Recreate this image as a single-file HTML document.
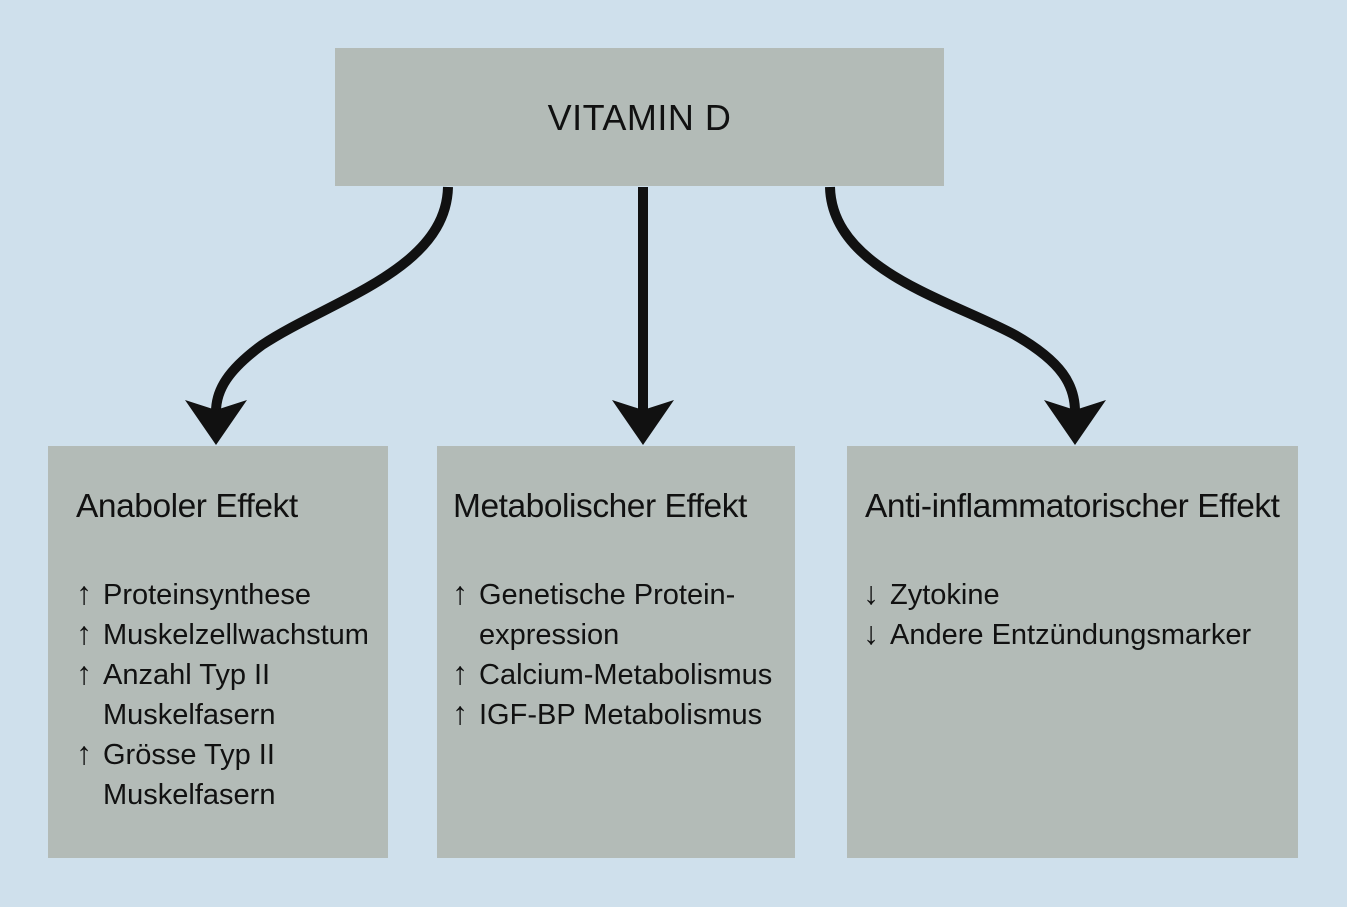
<!DOCTYPE html>
<html><head><meta charset="utf-8"><style>
body{margin:0;width:1347px;height:907px;background:#cfe0ec;position:relative;overflow:hidden;font-family:"Liberation Sans",sans-serif;color:#111}
.b{position:absolute;background:#b3bbb7}
.t{position:absolute;white-space:nowrap}
.h{font-size:33.5px;letter-spacing:-0.45px}
.i{font-size:29px;line-height:40px}
.a{font-size:32px;display:inline-block;width:27px;line-height:0}
</style></head><body>
<div class="b" style="left:335px;top:48px;width:609px;height:138px"></div>
<div class="t" style="left:335px;top:97px;width:609px;text-align:center;font-size:36px;letter-spacing:0.5px">VITAMIN D</div>
<div class="b" style="left:48px;top:446px;width:340px;height:412px"></div>
<div class="b" style="left:437px;top:446px;width:358px;height:412px"></div>
<div class="b" style="left:847px;top:446px;width:451px;height:412px"></div>
<div class="t h" style="left:76px;top:488px">Anaboler Effekt</div>
<div class="t h" style="left:453px;top:488px">Metabolischer Effekt</div>
<div class="t h" style="left:865px;top:488px">Anti-inflammatorischer Effekt</div>
<div class="t i" style="left:76px;top:575px"><span class="a">↑</span>Proteinsynthese<br><span class="a">↑</span>Muskelzellwachstum<br><span class="a">↑</span>Anzahl Typ II<br><span class="a"></span>Muskelfasern<br><span class="a">↑</span>Grösse Typ II<br><span class="a"></span>Muskelfasern</div>
<div class="t i" style="left:452px;top:575px"><span class="a">↑</span>Genetische Protein-<br><span class="a"></span>expression<br><span class="a">↑</span>Calcium-Metabolismus<br><span class="a">↑</span>IGF-BP Metabolismus</div>
<div class="t i" style="left:863px;top:575px"><span class="a">↓</span>Zytokine<br><span class="a">↓</span>Andere Entzündungsmarker</div>
<svg width="1347" height="907" style="position:absolute;left:0;top:0">
<g fill="none" stroke="#111" stroke-width="10">
<path d="M448,187 C446,270 330,300 262,345 C228,370 216,390 216,412"/>
<path d="M643,187 L643,412"/>
<path d="M830,187 C832,270 950,300 1015,335 C1062,362 1075,385 1075,412"/>
</g>
<g fill="#111">
<path d="M185,400 L216,445 L247,400 L216,410 Z"/>
<path d="M612,400 L643,445 L674,400 L643,410 Z"/>
<path d="M1044,400 L1075,445 L1106,400 L1075,410 Z"/>
</g>
</svg>
</body></html>
